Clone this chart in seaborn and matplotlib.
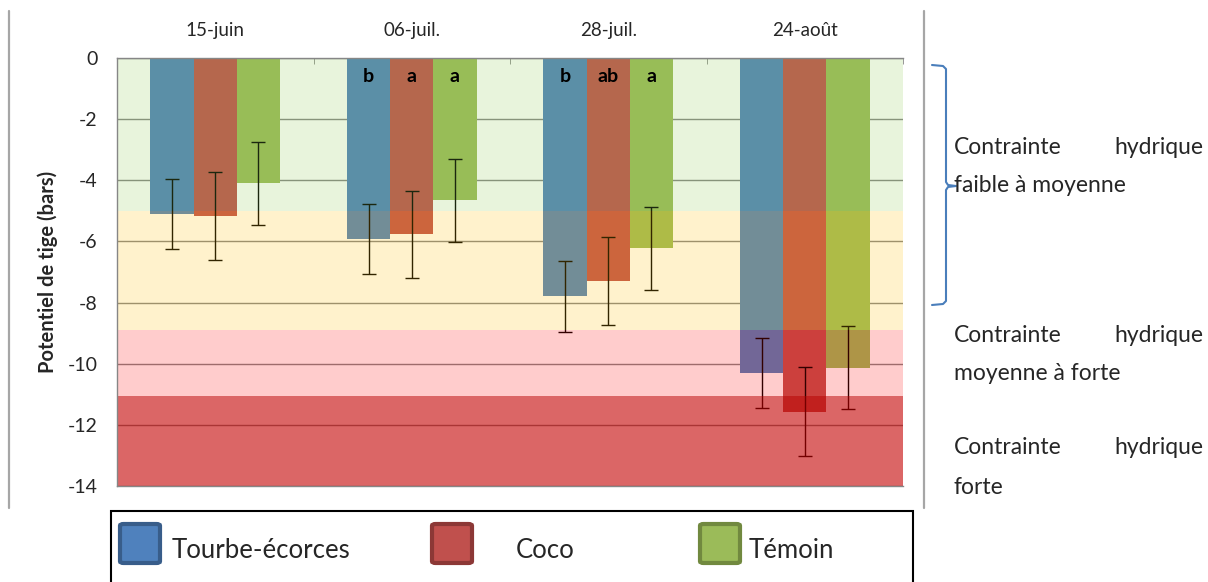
import matplotlib
matplotlib.use("Agg")
import matplotlib.pyplot as plt
from matplotlib.patches import Rectangle, FancyBboxPatch
from matplotlib.lines import Line2D
import pandas as pd
import seaborn as sns

# Data
dates = ["15-juin", "06-juil.", "28-juil.", "24-août"]
treatments = ["Tourbe-écorces", "Coco", "Témoin"]
tourbe = [-5.11, -5.93, -7.80, -10.30]
coco = [-5.17, -5.76, -7.28, -11.57]
temoin = [-4.10, -4.66, -6.22, -10.13]
err_tourbe = [1.14, 1.14, 1.15, 1.15]
err_coco = [1.44, 1.42, 1.44, 1.45]
err_temoin = [1.36, 1.36, 1.36, 1.36]
letters_tourbe = ["", "b", "b", ""]
letters_coco = ["", "a", "ab", ""]
letters_temoin = ["", "a", "a", ""]

# stress zones (top, bottom) drawn over the bars
zone_tops = [0.0, -5.0, -8.9, -11.05]
zone_bottoms = [-5.0, -8.9, -11.05, -14.0]
zone_colors = ["#8CC850", "#FFBE00", "#FF0000", "#C30000"]
zone_alphas = [0.2, 0.2, 0.2, 0.6]
zone_labels = [("Contrainte", "hydrique", "faible à moyenne"),
               ("Contrainte", "hydrique", "moyenne à forte"),
               ("Contrainte", "hydrique", "forte")]

bar_colors = ["#4F81BD", "#C0504D", "#9BBB59"]
edge_colors = ["#385D8A", "#8C3836", "#71893F"]

df = pd.DataFrame({
    "date": dates * 3,
    "treatment": [t for t in treatments for _ in dates],
    "value": tourbe + coco + temoin,
})
errors = [err_tourbe, err_coco, err_temoin]
letters = [letters_tourbe, letters_coco, letters_temoin]

sns.set_style("white")
plt.rcParams["font.family"] = ["Lato", "DejaVu Sans"]
plt.rcParams["axes.unicode_minus"] = False

W, H = 1208, 582
fig = plt.figure(figsize=(W / 100, H / 100), dpi=100)
ax = fig.add_axes([117 / W, 1 - 486 / H, (903 - 117) / W, (486 - 58) / H])

def fx(px):
    return px / W

def fy(py):
    return 1 - py / H

sns.barplot(data=df, x="date", y="value", hue="treatment", order=dates,
            hue_order=treatments, palette=bar_colors, width=0.66,
            saturation=1, errorbar=None, linewidth=0, legend=False,
            ax=ax, zorder=2)

for cont, err, labs in zip(ax.containers, errors, letters):
    xs = [b.get_x() + b.get_width() / 2 for b in cont]
    ys = [b.get_height() for b in cont]
    ax.errorbar(xs, ys, yerr=err, fmt="none", ecolor="black", elinewidth=1,
                capsize=5, capthick=1, zorder=3)
    for x, lab in zip(xs, labs):
        if lab:
            ax.text(x, -0.62, lab, ha="center", va="center", fontsize=14,
                    fontweight="bold", color="black", zorder=6)

for top, bot, col, a in zip(zone_tops, zone_bottoms, zone_colors, zone_alphas):
    ax.axhspan(bot, top, color=col, alpha=a, lw=0, zorder=4)

ax.set_ylim(-14, 0)
ax.set_xlim(-0.5, 3.5)
ax.set_yticks(range(-14, 1, 2))
ax.yaxis.grid(True, color="#868686", lw=1)
ax.set_axisbelow(True)

grey = "#868686"
for s in ["top", "left", "bottom"]:
    ax.spines[s].set_color(grey)
    ax.spines[s].set_linewidth(1)
    ax.spines[s].set_zorder(5)
ax.spines["right"].set_visible(False)

ax.tick_params(axis="y", direction="out", length=5, color=grey, width=1,
               labelsize=14, pad=9)
ax.xaxis.set_ticks_position("top")
ax.xaxis.set_label_position("top")
ax.set_xticks(range(len(dates)), dates)
ax.set_xticks([-0.5, 0.5, 1.5, 2.5, 3.5], minor=True)
ax.tick_params(axis="x", which="major", length=0, labelsize=13.5, pad=14,
               top=True, bottom=False, labeltop=True, labelbottom=False)
ax.tick_params(axis="x", which="minor", direction="in", length=4, color=grey,
               top=True, bottom=False)
ax.set_xlabel("")
ax.set_ylabel("Potentiel de tige (bars)", fontsize=14.5, fontweight="bold",
              labelpad=7)

# page borders
for px in [9, 924]:
    fig.add_artist(Line2D([fx(px), fx(px)], [fy(11), fy(508)],
                          color="#A6A6A6", lw=1.6, transform=fig.transFigure))

# brace on the right
bx = [932, 943, 946, 946, 948, 956, 948, 946, 946, 943, 932]
by = [65, 66, 69, 182, 185, 186, 187, 190, 301, 304, 305]
fig.add_artist(Line2D([fx(v) for v in bx], [fy(v) for v in by],
                      color="#4A7EBB", lw=1.5, transform=fig.transFigure))

# zone descriptions
line_y = [(148, 186), (336, 374), (448, 487)]
for (w1, w2, l2), (y1, y2) in zip(zone_labels, line_y):
    fig.text(fx(954), fy(y1), w1, ha="left", va="center", fontsize=16.5)
    fig.text(fx(1203), fy(y1), w2, ha="right", va="center", fontsize=16.5)
    fig.text(fx(954), fy(y2), l2, ha="left", va="center", fontsize=16.5)

# legend box
fig.add_artist(Rectangle((fx(111), fy(600)), fx(913) - fx(111), fy(511) - fy(600),
                         fill=False, ec="black", lw=1.5,
                         transform=fig.transFigure))
sw_x = [118, 430, 698]
txt_x = [172, 516, 749]
for name, fc, ec, sx, tx in zip(treatments, bar_colors, edge_colors, sw_x, txt_x):
    fig.add_artist(FancyBboxPatch((fx(sx + 2), fy(563)), fx(40), fy(524) - fy(563),
                                  boxstyle="round,pad=0,rounding_size=0.003",
                                  fc=fc, ec=ec, lw=3,
                                  transform=fig.transFigure))
    fig.text(fx(tx), fy(551), name, ha="left", va="center", fontsize=18.5)

fig.savefig("out.png", dpi=100)
